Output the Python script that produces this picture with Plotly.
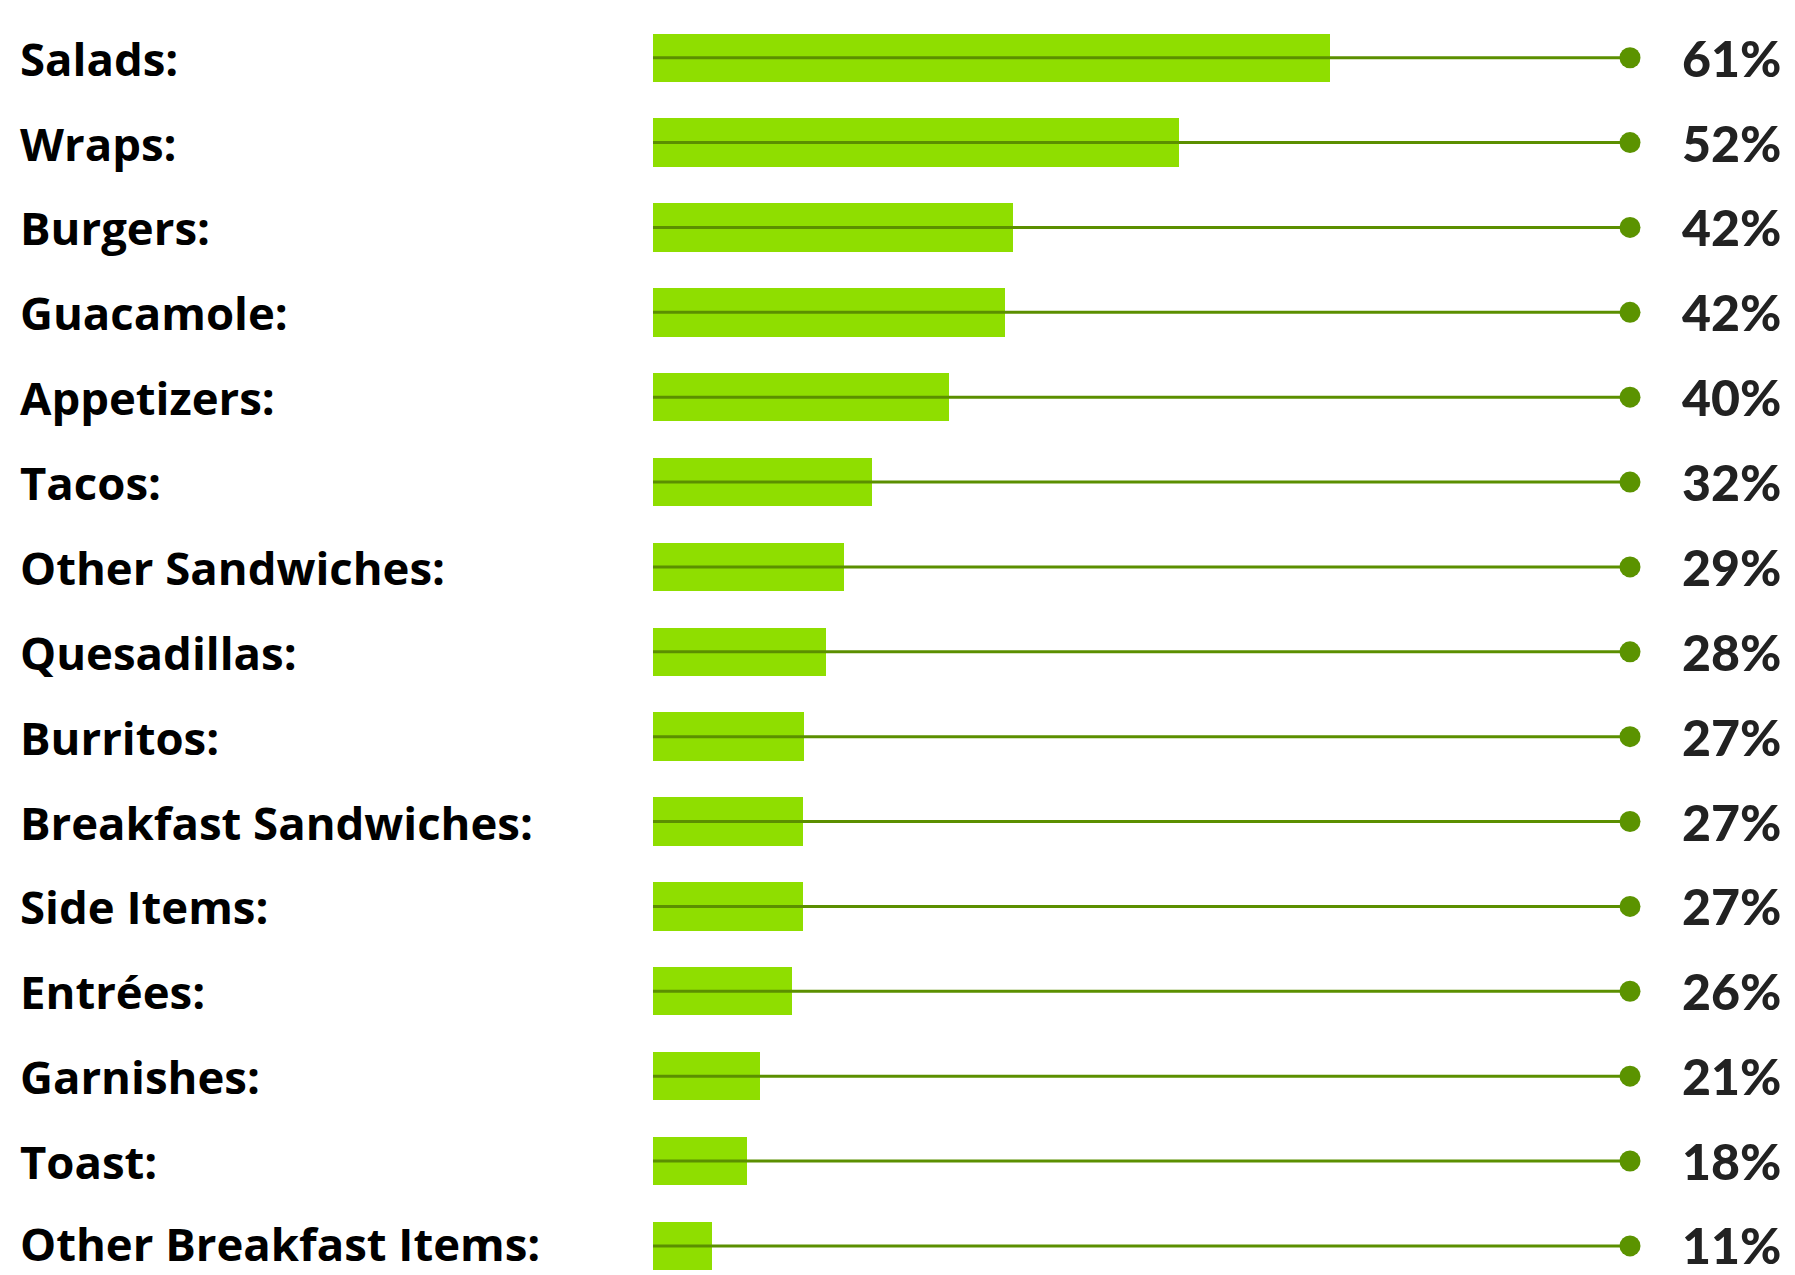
import plotly.graph_objects as go

categories = ["Salads:", "Wraps:", "Burgers:", "Guacamole:", "Appetizers:", "Tacos:",
              "Other Sandwiches:", "Quesadillas:", "Burritos:", "Breakfast Sandwiches:",
              "Side Items:", "Entrées:", "Garnishes:", "Toast:", "Other Breakfast Items:"]
percent_values = [61, 52, 42, 42, 40, 32, 29, 28, 27, 27, 27, 26, 21, 18, 11]
bar_values = [69.3, 53.8, 36.8, 36.0, 30.3, 22.4, 19.5, 17.7, 15.5, 15.4, 15.4, 14.2, 11.0, 9.6, 6.0]
track_max = 100

BAR_COLOR = "#8fde00"
LINE_COLOR = "#5b8f00"
DOT_COLOR = "#5b9300"

fig = go.Figure()

fig.add_trace(go.Bar(
    x=bar_values, y=categories, orientation="h", width=0.57,
    marker=dict(color=BAR_COLOR, line=dict(width=0)), hoverinfo="skip",
))

line_x, line_y = [], []
for c in categories:
    line_x += [0, track_max, None]
    line_y += [c, c, None]
fig.add_trace(go.Scatter(
    x=line_x, y=line_y, mode="lines",
    line=dict(color=LINE_COLOR, width=3), hoverinfo="skip", cliponaxis=False,
))

fig.add_trace(go.Scatter(
    x=[track_max] * len(categories), y=categories, mode="markers",
    marker=dict(color=DOT_COLOR, size=21, line=dict(width=0)),
    hoverinfo="skip", cliponaxis=False,
))

L, R = 653, 165
plot_w = 1795 - L - R
annotations = []
last = len(categories) - 1
for i, (c, p) in enumerate(zip(categories, percent_values)):
    annotations.append(dict(
        x=(18 - L) / plot_w, xref="paper", y=c, yref="y", text=c,
        xanchor="left", yanchor="middle", showarrow=False,
        yshift=3 if i == last else 0,
        font=dict(family="Open Sans", size=45.5, color="#000000", weight="bold"),
    ))
    annotations.append(dict(
        x=track_max, xref="x", y=c, yref="y", text=f"{p}%",
        xanchor="left", yanchor="middle", xshift=50, showarrow=False,
        yshift=1 if i == last else 0,
        font=dict(family="Lato", size=50, color="#222222", weight=900),
    ))

fig.update_layout(
    width=1795, height=1275,
    margin=dict(l=L, r=R, t=0, b=0, pad=0),
    paper_bgcolor="white", plot_bgcolor="white",
    showlegend=False, annotations=annotations, bargap=0,
    xaxis=dict(range=[0, track_max], visible=False, fixedrange=True),
    yaxis=dict(type="category", categoryorder="array", categoryarray=categories,
               range=[14.343, -0.680], visible=False, fixedrange=True),
)

fig.write_html("out.html")
